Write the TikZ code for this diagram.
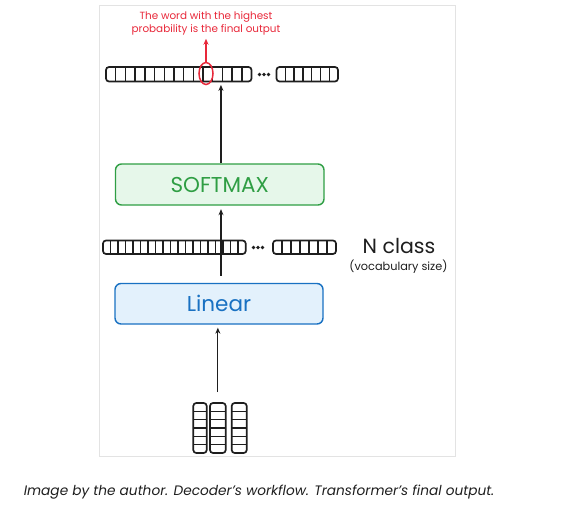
\documentclass[tikz,border=0pt]{standalone}
\usepackage{fontspec}
\setmainfont{Poppins}
\usetikzlibrary{arrows.meta,shapes.geometric,calc}
\definecolor{frameg}{HTML}{E3E3E3}
\definecolor{sgreen}{HTML}{2F9E44}
\definecolor{sgreenfill}{HTML}{E6F7EA}
\definecolor{lblue}{HTML}{1971C2}
\definecolor{lbluefill}{HTML}{E3F1FC}
\definecolor{ured}{HTML}{E8283A}
\definecolor{ink}{HTML}{1E1E1E}
\tikzset{
  cellbox/.style={draw=ink, line width=1.7pt, rounded corners=3pt, inner sep=0pt, fill=white},
  cellline/.style={draw=ink, line width=1.4pt},
  blockbox/.style={rounded corners=6pt, line width=1.4pt, inner sep=0pt},
  arr/.style={draw=ink, line width=1.1pt, -{Stealth[length=6pt,width=5pt]}},
  dotmark/.style={circle, fill=ink, inner sep=0pt, minimum size=3.6pt},
}
\newcommand\cellrow[6]{%
  \node[cellbox, minimum width={#4-#2}, minimum height={#5-#3}] (#1) at ({(#2+#4)/2},{(#3+#5)/2}) {};
  \pgfmathtruncatemacro\nmcells{#6-1}
  \foreach \i in {1,...,\nmcells}{\draw[cellline] ({#2+\i*(#4-#2)/#6},#3) -- ({#2+\i*(#4-#2)/#6},#5);}
}
\newcommand\cellcol[6]{%
  \node[cellbox, minimum width={#4-#2}, minimum height={#5-#3}] (#1) at ({(#2+#4)/2},{(#3+#5)/2}) {};
  \pgfmathtruncatemacro\nmcells{#6-1}
  \foreach \i in {1,...,\nmcells}{\draw[cellline] (#2,{#3+\i*(#5-#3)/#6}) -- (#4,{#3+\i*(#5-#3)/#6});}
}
\begin{document}
\begin{tikzpicture}[x=1pt,y=-1pt]
\useasboundingbox (0,0) rectangle (562,511);
\draw[frameg, line width=1pt] (99,6) rectangle (455.5,456);

% top output vector
\cellrow{topA}{106}{67}{251.5}{81.5}{15}
\cellrow{topB}{276.5}{67}{338}{81.5}{7}
\node[dotmark] (td1) at (259.5,74.5) {};
\node[dotmark] (td2) at (264,74.5) {};
\node[dotmark] (td3) at (268.5,74.5) {};

% red highlight
\node[draw=ured, ellipse, line width=1.5pt, minimum width=14pt, minimum height=22pt, inner sep=0pt] (pick) at (206,73.5) {};
\node[text=ured, font=\fontsize{10.4}{12.8}\selectfont, align=center] (note) at (206,23.5) {The word with the highest\\probability is the final output};
\draw[draw=ured, line width=1.5pt, -{Stealth[length=6pt,width=5pt]}] (pick.north) -- (note.south);

% softmax
\node[blockbox, draw=sgreen, fill=sgreenfill, minimum width=208.5pt, minimum height=41pt, text=sgreen, font=\fontsize{21.5}{24}\selectfont] (soft) at (219.75,184.5) {SOFTMAX};
\draw[arr, shorten >=2.5pt] ([xshift=1.2pt]soft.north) -- ([xshift=1.2pt]soft.north |- topA.south);

% middle vector
\cellrow{midA}{103}{240.5}{245.7}{254}{19}
\cellrow{midB}{273}{240.5}{336}{254}{7}
\node[dotmark] (md1) at (253.5,247.5) {};
\node[dotmark] (md2) at (258,247.5) {};
\node[dotmark] (md3) at (262.5,247.5) {};
\node[font=\fontsize{20.5}{24}\selectfont, text=ink] (ncls) at (399,246) {N class};
\node[font=\fontsize{11.3}{13}\selectfont, text=ink] (vsz) at (398.5,266.5) {(vocabulary size)};

% linear
\node[blockbox, draw=lblue, fill=lbluefill, minimum width=208pt, minimum height=40.5pt, text=lblue, font=\fontsize{21.5}{24}\selectfont] (lin) at (219,303.75) {Linear};
\draw[arr, shorten <=7pt, shorten >=3.5pt] ([xshift=2pt]lin.north) -- ([xshift=2pt]lin.north |- soft.south);

% input stacks
\cellcol{inA}{193.3}{403}{206.7}{453}{6}
\cellcol{inB}{210}{403}{225.7}{453}{6}
\cellcol{inC}{231.7}{403}{246.7}{453}{6}
\draw[arr, shorten <=10pt, shorten >=3pt] (inB.north) -- (inB.north |- lin.south);

% caption
\node[font=\itshape\fontsize{13.7}{16}\selectfont, text=ink] (cap) at (259,492) {Image by the author. Decoder’s workflow. Transformer’s final output.};
\end{tikzpicture}
\end{document}
